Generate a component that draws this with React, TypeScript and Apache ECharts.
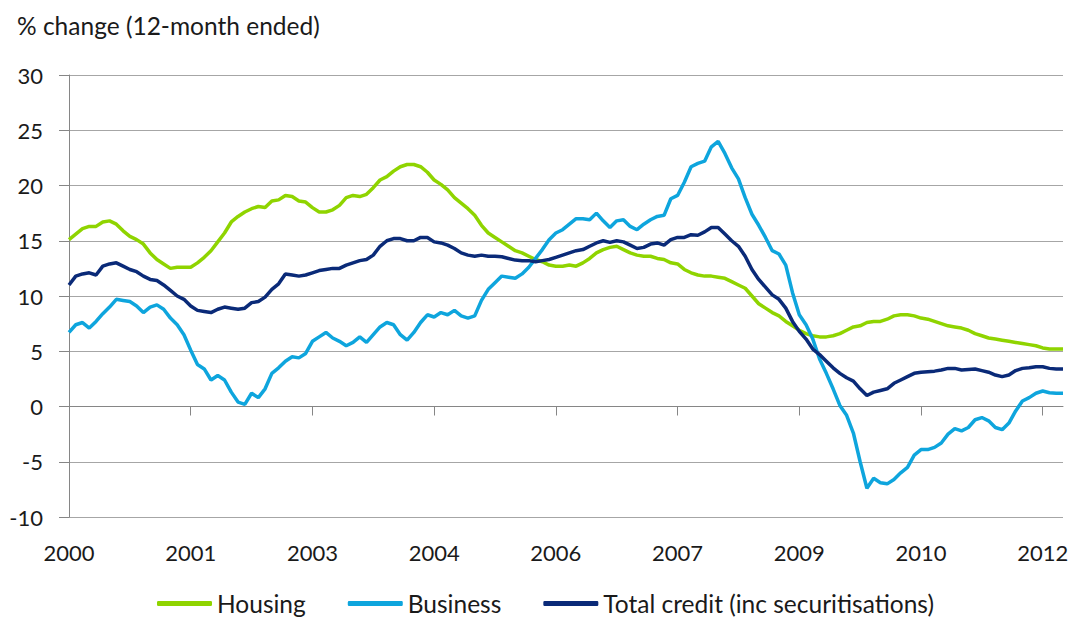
import React, { useEffect, useRef } from "react";
import * as echarts from "echarts";

// Monthly data, Jan 2000 – Apr 2012 (% change, 12-month ended)
const HOUSING: number[] = [
  15.1, 15.6, 16.1, 16.3, 16.3, 16.7, 16.8, 16.5, 15.9, 15.4,
  15.1, 14.7, 13.9, 13.3, 12.9, 12.5, 12.6, 12.6, 12.6, 13.0,
  13.5, 14.1, 14.9, 15.7, 16.7, 17.2, 17.6, 17.9, 18.1, 18.0,
  18.6, 18.7, 19.1, 19.0, 18.6, 18.5, 18.0, 17.6, 17.6, 17.8,
  18.2, 18.9, 19.1, 19.0, 19.2, 19.8, 20.5, 20.8, 21.3, 21.7,
  21.9, 21.9, 21.7, 21.2, 20.5, 20.1, 19.6, 18.9, 18.4, 17.9,
  17.3, 16.4, 15.7, 15.3, 14.9, 14.5, 14.1, 13.9, 13.6, 13.3,
  13.1, 12.8, 12.7, 12.7, 12.8, 12.7, 13.0, 13.4, 13.9, 14.2,
  14.4, 14.5, 14.2, 13.9, 13.7, 13.6, 13.6, 13.4, 13.3, 13.0,
  12.9, 12.4, 12.1, 11.9, 11.8, 11.8, 11.7, 11.6, 11.3, 11.0,
  10.7, 10.0, 9.3, 8.9, 8.5, 8.2, 7.7, 7.3, 6.9, 6.6,
  6.4, 6.3, 6.3, 6.4, 6.6, 6.9, 7.2, 7.3, 7.6, 7.7,
  7.7, 7.9, 8.2, 8.3, 8.3, 8.2, 8.0, 7.9, 7.7, 7.5,
  7.3, 7.2, 7.1, 6.9, 6.6, 6.4, 6.2, 6.1, 6.0, 5.9,
  5.8, 5.7, 5.6, 5.5, 5.3, 5.2, 5.2, 5.2,
];

const BUSINESS: number[] = [
  6.7, 7.4, 7.6, 7.1, 7.7, 8.4, 9.0, 9.7, 9.6, 9.5,
  9.1, 8.5, 9.0, 9.2, 8.8, 8.0, 7.4, 6.5, 5.1, 3.8,
  3.4, 2.4, 2.8, 2.4, 1.3, 0.4, 0.2, 1.2, 0.8, 1.6,
  3.0, 3.5, 4.1, 4.5, 4.4, 4.8, 5.9, 6.3, 6.7, 6.2,
  5.9, 5.5, 5.8, 6.3, 5.8, 6.5, 7.2, 7.6, 7.4, 6.5,
  6.0, 6.7, 7.6, 8.3, 8.1, 8.5, 8.3, 8.7, 8.2, 8.0,
  8.2, 9.6, 10.6, 11.2, 11.8, 11.7, 11.6, 12.0, 12.6, 13.4,
  14.2, 15.1, 15.7, 16.0, 16.5, 17.0, 17.0, 16.9, 17.5, 16.8,
  16.2, 16.8, 16.9, 16.3, 16.0, 16.5, 16.9, 17.2, 17.3, 18.8,
  19.1, 20.3, 21.7, 22.0, 22.2, 23.5, 24.0, 22.9, 21.6, 20.6,
  18.9, 17.4, 16.4, 15.3, 14.1, 13.8, 12.8, 10.3, 8.3, 7.4,
  6.1, 4.3, 3.0, 1.6, 0.1, -0.8, -2.4, -5.0, -7.4, -6.5,
  -6.9, -7.0, -6.6, -6.0, -5.5, -4.4, -3.9, -3.9, -3.7, -3.3,
  -2.5, -2.0, -2.2, -1.9, -1.2, -1.0, -1.3, -1.9, -2.1, -1.5,
  -0.4, 0.5, 0.8, 1.2, 1.4, 1.25, 1.2, 1.2,
];

const TOTAL: number[] = [
  11.0, 11.8, 12.0, 12.1, 11.9, 12.7, 12.9, 13.0, 12.7, 12.4,
  12.2, 11.8, 11.5, 11.4, 11.0, 10.5, 10.0, 9.7, 9.1, 8.7,
  8.6, 8.5, 8.8, 9.0, 8.9, 8.8, 8.9, 9.4, 9.5, 9.9,
  10.6, 11.1, 12.0, 11.9, 11.8, 11.9, 12.1, 12.3, 12.4, 12.5,
  12.5, 12.8, 13.0, 13.2, 13.3, 13.7, 14.5, 15.0, 15.2, 15.2,
  15.0, 15.0, 15.3, 15.3, 14.9, 14.8, 14.6, 14.3, 13.9, 13.7,
  13.6, 13.7, 13.6, 13.6, 13.55, 13.4, 13.25, 13.2, 13.2, 13.1,
  13.2, 13.3, 13.5, 13.7, 13.9, 14.1, 14.2, 14.5, 14.8, 15.0,
  14.85, 15.0, 14.9, 14.6, 14.3, 14.4, 14.7, 14.8, 14.6, 15.1,
  15.3, 15.3, 15.55, 15.5, 15.8, 16.2, 16.2, 15.6, 15.0, 14.5,
  13.6, 12.4, 11.5, 10.8, 10.1, 9.7, 8.9, 7.7, 6.8, 6.1,
  5.2, 4.7, 4.1, 3.5, 3.0, 2.6, 2.3, 1.6, 1.0, 1.3,
  1.45, 1.6, 2.1, 2.4, 2.7, 3.0, 3.1, 3.15, 3.2, 3.3,
  3.45, 3.45, 3.3, 3.35, 3.4, 3.25, 3.1, 2.85, 2.7, 2.85,
  3.25, 3.45, 3.5, 3.6, 3.6, 3.45, 3.4, 3.4,
];

const SERIES_NAMES = ["Housing", "Business", "Total credit (inc securitisations)"];
const START_YEAR = 2000;
const LABEL_EVERY = 18; // months between x-axis labels
const Y_MIN = -10;
const Y_MAX = 30;
const Y_STEP = 5;

// Month categories "YYYY-MM"
const MONTHS: string[] = [];
for (let i = 0; i < HOUSING.length; i++) {
  const y = START_YEAR + Math.floor(i / 12);
  const m = (i % 12) + 1;
  MONTHS.push(`${y}-${m < 10 ? "0" + m : m}`);
}

const FONT = "Lato, 'Noto Sans', sans-serif";
const TEXT = "#1a1a1a";
const AXIS = "#868686";
const GRID = "#a6a6a6";

export default function App() {
  const ref = useRef<HTMLDivElement>(null);
  useEffect(() => {
    if (!ref.current) return;
    const chart = echarts.init(ref.current, undefined, { renderer: "svg" });
    chart.setOption({
      animation: false,
      backgroundColor: "#ffffff",
      textStyle: { fontFamily: FONT },
      title: {
        text: "% change (12-month ended)",
        left: 12,
        top: 8,
        textStyle: { fontFamily: FONT, fontSize: 24.5, fontWeight: "normal", color: TEXT },
      },
      grid: { left: 69, right: 12, top: 75, bottom: 104, containLabel: false },
      legend: {
        bottom: 0,
        left: 152,
        itemWidth: 55,
        itemHeight: 5,
        itemGap: 42,
        icon: "roundRect",
        textStyle: { fontFamily: FONT, fontSize: 24.5, color: TEXT },
        data: SERIES_NAMES,
      },
      xAxis: [
        {
          type: "category",
          data: MONTHS,
          boundaryGap: false,
          position: "bottom",
          axisLine: { show: false, onZero: false },
          axisTick: { show: false },
          splitLine: { show: false },
          axisLabel: {
            interval: LABEL_EVERY - 1,
            margin: 24,
            fontSize: 22,
            color: TEXT,
            fontFamily: FONT,
            formatter: (v: string) => v.slice(0, 4),
          },
        },
        {
          type: "category",
          data: MONTHS,
          boundaryGap: false,
          position: "top",
          axisLine: { show: true, onZero: true, lineStyle: { color: AXIS, width: 1 } },
          axisTick: { show: true, inside: true, length: 9, interval: LABEL_EVERY - 1, lineStyle: { color: AXIS } },
          axisLabel: { show: false },
          splitLine: { show: false },
        },
      ],
      yAxis: {
        type: "value",
        min: Y_MIN,
        max: Y_MAX,
        interval: Y_STEP,
        axisLine: { show: true, lineStyle: { color: AXIS, width: 1 } },
        axisTick: { show: true, length: 10, lineStyle: { color: AXIS } },
        axisLabel: { margin: 26, fontSize: 22, color: TEXT, fontFamily: FONT },
        splitLine: { show: true, lineStyle: { color: GRID, width: 1 } },
      },
      series: [
        {
          name: SERIES_NAMES[0],
          type: "line",
          data: HOUSING,
          showSymbol: false,
          symbol: "none",
          color: "#8fd400",
          lineStyle: { width: 3.5, color: "#8fd400" },
        },
        {
          name: SERIES_NAMES[1],
          type: "line",
          data: BUSINESS,
          showSymbol: false,
          symbol: "none",
          color: "#0ea5dd",
          lineStyle: { width: 3.5, color: "#0ea5dd" },
        },
        {
          name: SERIES_NAMES[2],
          type: "line",
          data: TOTAL,
          showSymbol: false,
          symbol: "none",
          color: "#0a2a78",
          lineStyle: { width: 3.5, color: "#0a2a78" },
        },
      ],
    });
    return () => chart.dispose();
  }, []);
  return (
    <div
      ref={ref}
      style={{ position: "fixed", left: 0, top: 0, width: 1075, height: 621, background: "#fff" }}
    />
  );
}
